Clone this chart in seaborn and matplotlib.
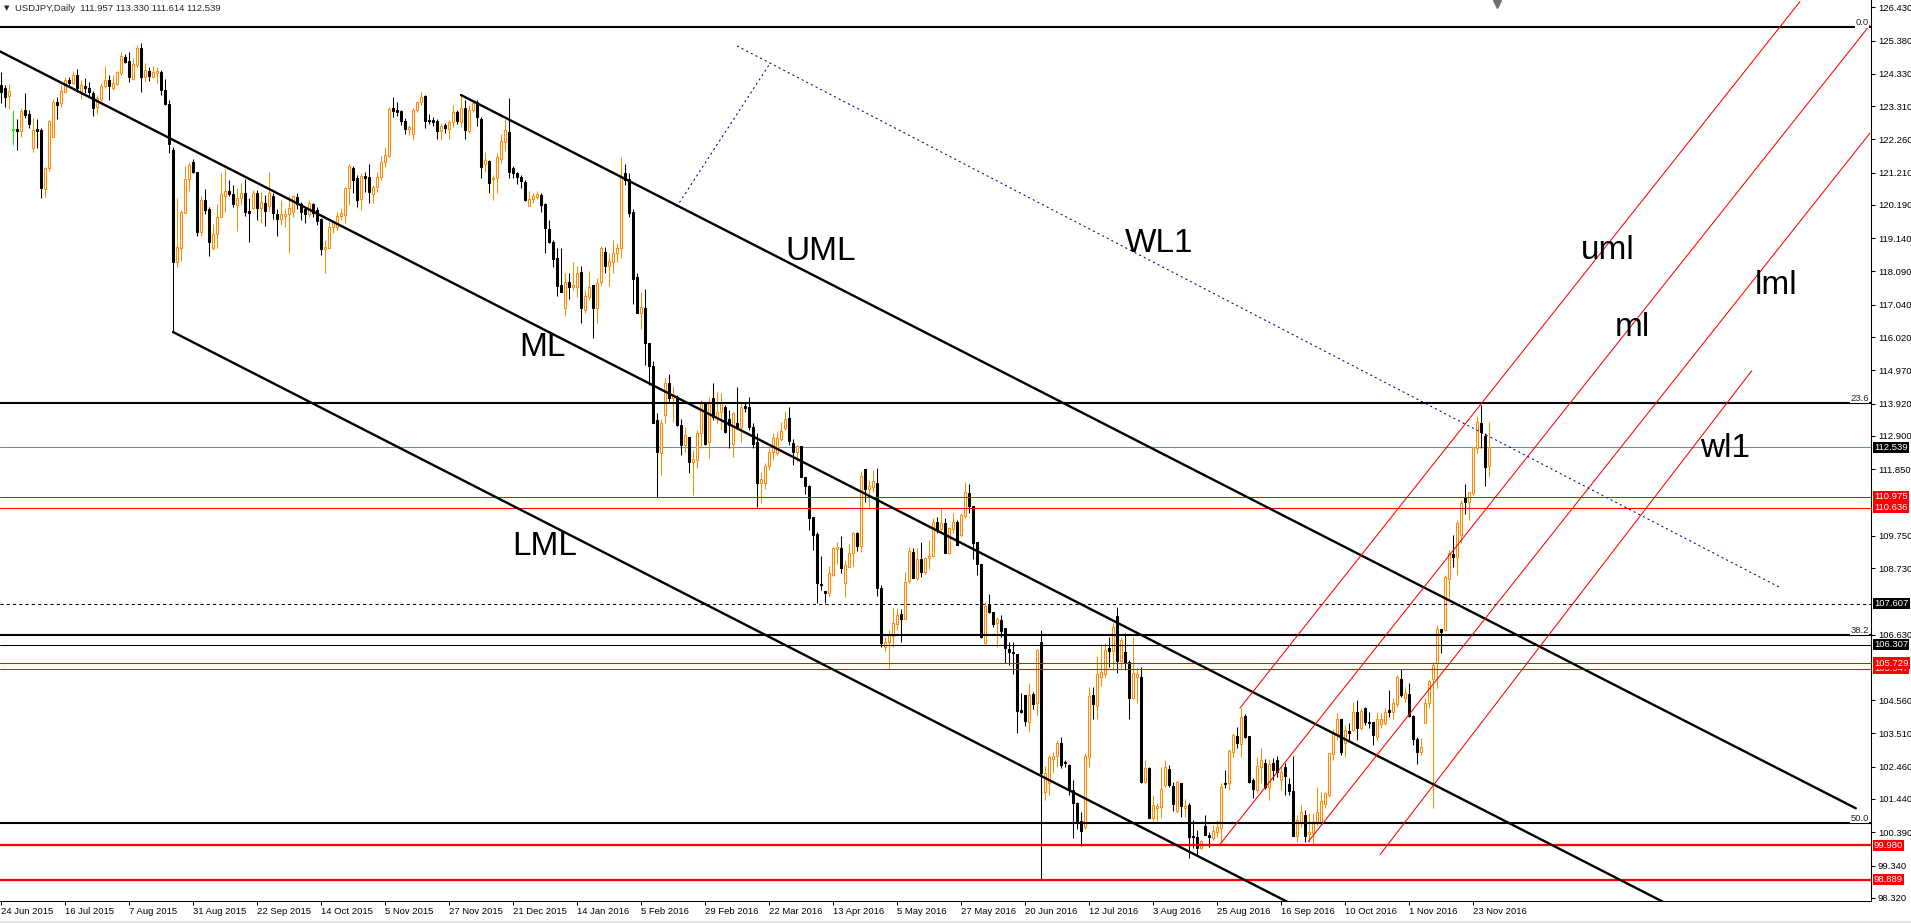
import numpy as np
import pandas as pd
import matplotlib
matplotlib.use("Agg")
import matplotlib.pyplot as plt
from matplotlib.patches import Rectangle
import seaborn as sns

# USDJPY daily candles, bar 0 = 24 Jun 2015 (weekdays, 25 Dec / 1 Jan missing)
opens = [
    123.98, 123.87, 123.64, 122.56, 122.58, 122.51, 123.19, 123.05, 121.98, 122.58,
    122.56, 120.68, 121.35, 122.33, 123.43, 123.40, 123.75, 124.14, 124.03, 124.29,
    123.79, 123.95, 123.87, 123.71, 123.27, 123.54, 123.93, 124.13, 123.87, 124.01,
    124.35, 124.87, 124.74, 124.16, 124.61, 125.14, 124.22, 124.42, 124.24, 124.37,
    124.38, 123.82, 123.37, 121.93, 118.40, 118.84, 119.93, 121.00, 121.56, 121.22,
    119.35, 120.35, 120.06, 118.84, 119.27, 119.82, 120.48, 120.63, 120.54, 120.19,
    120.42, 120.57, 120.00, 120.08, 120.56, 120.11, 120.26, 120.17, 120.47, 119.90,
    119.74, 119.85, 119.90, 119.98, 120.43, 120.22, 120.06, 119.89, 120.22, 120.03,
    119.75, 118.80, 118.84, 119.51, 119.51, 119.85, 119.87, 120.71, 121.37, 121.03,
    120.38, 121.11, 121.08, 120.53, 120.77, 121.08, 121.54, 121.75, 123.26, 123.19,
    123.16, 122.85, 122.59, 122.43, 123.19, 123.43, 123.63, 122.87, 122.87, 122.84,
    122.54, 122.71, 122.58, 122.80, 123.11, 122.82, 123.24, 122.52, 123.19, 123.43,
    122.90, 121.48, 121.59, 121.01, 121.03, 121.64, 122.19, 122.50, 121.35, 121.19,
    121.08, 120.93, 120.17, 120.37, 120.43, 120.51, 120.21, 119.43, 119.01, 118.51,
    117.66, 116.95, 117.77, 117.61, 117.61, 118.08, 116.87, 117.29, 117.66, 116.93,
    117.75, 118.72, 118.27, 118.40, 118.66, 118.82, 121.19, 121.00, 119.98, 117.93,
    116.77, 116.93, 115.82, 115.11, 113.40, 112.35, 113.56, 114.58, 114.09, 114.14,
    113.25, 112.61, 112.88, 112.09, 112.14, 112.98, 113.93, 112.72, 114.09, 113.45,
    113.67, 113.82, 113.42, 112.64, 113.32, 113.19, 113.85, 113.82, 113.19, 112.72,
    111.40, 111.40, 111.95, 112.40, 112.35, 112.80, 113.14, 113.45, 112.67, 112.40,
    112.58, 111.59, 111.32, 110.33, 109.80, 108.20, 108.02, 107.93, 108.51, 109.32,
    109.35, 108.27, 108.75, 109.19, 109.85, 109.44, 111.85, 111.21, 111.30, 111.40,
    108.09, 106.25, 106.38, 106.58, 106.96, 107.27, 107.11, 108.33, 109.23, 108.40,
    109.00, 108.61, 109.04, 109.12, 110.17, 109.95, 110.16, 109.21, 109.95, 110.19,
    109.77, 110.37, 111.11, 110.69, 109.54, 108.86, 106.35, 107.59, 107.35, 106.98,
    107.09, 106.83, 106.16, 106.08, 106.02, 104.25, 104.72, 103.88, 104.74, 104.48,
    106.41, 101.67, 101.95, 102.70, 102.80, 103.20, 102.60, 102.51, 101.72, 101.32,
    100.75, 100.54, 102.75, 104.72, 104.39, 105.30, 105.37, 106.20, 106.12, 107.20,
    105.78, 106.09, 105.77, 104.62, 105.30, 105.28, 101.99, 102.41, 100.85, 101.17,
    101.20, 101.88, 102.38, 101.85, 101.06, 101.95, 101.14, 101.25, 100.27, 100.23,
    99.88, 100.60, 100.30, 100.20, 100.41, 100.51, 101.95, 101.93, 102.93, 103.43,
    103.17, 104.07, 103.43, 102.04, 101.72, 102.46, 102.57, 101.83, 102.56, 102.67,
    102.04, 102.46, 101.90, 101.69, 100.28, 100.72, 100.93, 100.34, 100.36, 100.67,
    100.67, 101.28, 101.56, 102.86, 103.49, 103.96, 103.20, 103.57, 103.62, 104.17,
    103.67, 104.30, 103.88, 103.86, 103.41, 103.80, 103.83, 104.25, 104.20, 104.44,
    105.23, 104.62, 104.75, 104.07, 103.32, 102.93, 103.85, 104.48, 105.22, 105.72,
    106.80, 106.77, 108.37, 109.17, 109.09, 109.77, 110.96, 110.80, 111.09, 112.51,
    113.30, 112.90, 111.957,
]
highs = [
    124.40, 123.98, 124.01, 123.19, 122.90, 123.24, 123.71, 123.19, 122.93, 122.90,
    122.61, 121.40, 122.87, 123.53, 123.61, 123.98, 124.22, 124.24, 124.43, 124.47,
    124.14, 124.19, 124.08, 123.79, 123.66, 124.05, 124.58, 124.29, 124.29, 124.43,
    125.01, 124.96, 125.03, 124.82, 125.24, 125.29, 124.66, 124.56, 124.58, 124.56,
    124.45, 124.16, 123.50, 122.01, 120.40, 120.03, 121.42, 121.56, 121.63, 121.24,
    120.47, 120.68, 120.14, 119.59, 120.22, 121.19, 121.33, 120.98, 120.83, 120.72,
    120.87, 121.00, 120.40, 120.66, 120.66, 120.59, 120.50, 121.23, 120.56, 120.05,
    120.35, 120.05, 120.47, 120.50, 120.58, 120.29, 120.14, 120.35, 120.24, 120.14,
    119.77, 119.08, 119.66, 119.66, 119.98, 120.08, 120.77, 121.48, 121.42, 121.14,
    121.19, 121.24, 121.48, 120.82, 121.24, 121.74, 122.01, 123.29, 123.61, 123.45,
    123.19, 122.92, 122.71, 123.26, 123.48, 123.75, 123.66, 123.06, 122.98, 122.89,
    122.77, 122.77, 122.87, 123.35, 123.19, 123.66, 123.50, 123.33, 123.48, 123.50,
    122.98, 121.87, 121.61, 121.14, 121.82, 122.43, 122.87, 123.56, 121.42, 121.24,
    121.14, 120.98, 120.63, 120.56, 120.64, 120.58, 120.24, 119.72, 119.08, 118.82,
    118.82, 118.03, 118.05, 118.40, 118.26, 118.26, 117.51, 118.11, 117.66, 117.87,
    118.90, 118.87, 118.66, 119.08, 118.98, 121.69, 121.48, 121.21, 120.05, 118.05,
    117.45, 117.54, 115.84, 115.28, 113.61, 113.42, 114.72, 114.87, 114.48, 114.19,
    113.42, 113.19, 112.88, 112.45, 113.09, 114.03, 113.98, 114.14, 114.56, 114.30,
    114.24, 113.88, 113.72, 113.64, 114.45, 113.98, 113.98, 114.14, 113.30, 112.98,
    111.77, 112.03, 112.51, 112.98, 113.01, 113.35, 113.69, 113.82, 112.79, 112.61,
    112.58, 111.59, 111.35, 110.35, 109.88, 109.11, 108.02, 108.79, 109.40, 109.56,
    109.74, 108.98, 109.49, 109.88, 109.88, 111.80, 111.85, 111.51, 111.82, 111.88,
    108.19, 106.56, 106.77, 107.46, 107.48, 107.43, 108.62, 109.40, 109.35, 109.35,
    109.56, 109.09, 109.63, 110.30, 110.35, 110.58, 110.30, 110.04, 110.46, 110.25,
    110.46, 111.45, 111.38, 110.69, 109.56, 108.86, 107.67, 107.91, 107.35, 107.19,
    107.25, 106.83, 106.40, 106.38, 106.02, 104.78, 104.72, 105.09, 104.83, 106.16,
    106.77, 102.48, 102.83, 102.93, 103.30, 103.41, 102.67, 102.54, 102.04, 101.35,
    101.04, 102.90, 104.99, 104.96, 105.95, 106.33, 106.37, 106.54, 107.00, 107.51,
    106.56, 106.67, 105.83, 106.54, 105.56, 105.60, 102.67, 102.44, 101.57, 101.30,
    102.44, 102.67, 102.51, 101.99, 102.04, 101.95, 101.43, 101.30, 100.78, 100.46,
    100.15, 100.94, 100.41, 100.62, 100.78, 101.93, 102.35, 103.01, 103.53, 103.70,
    104.30, 104.12, 103.43, 102.09, 102.78, 103.04, 102.69, 102.67, 102.72, 102.80,
    102.46, 102.56, 102.09, 102.80, 100.93, 101.25, 101.09, 100.99, 100.99, 101.83,
    101.67, 101.67, 102.90, 103.64, 104.16, 103.96, 103.77, 103.83, 104.51, 104.56,
    104.30, 104.35, 104.20, 103.88, 104.20, 104.14, 104.30, 104.88, 104.62, 105.35,
    105.53, 104.99, 105.09, 104.09, 103.41, 103.35, 104.62, 105.21, 105.77, 106.93,
    106.80, 108.51, 109.30, 109.77, 110.25, 110.88, 111.38, 111.14, 112.56, 113.53,
    113.88, 112.98, 113.330,
]
lows = [
    123.40, 123.27, 123.21, 122.08, 121.93, 122.35, 122.93, 122.61, 121.85, 122.00,
    120.40, 120.45, 121.26, 122.33, 122.90, 123.27, 123.71, 123.93, 124.01, 123.75,
    123.54, 123.74, 123.61, 123.01, 123.07, 123.46, 123.87, 123.50, 123.82, 123.98,
    124.29, 124.66, 124.06, 124.14, 124.56, 123.77, 124.06, 124.11, 124.22, 124.03,
    123.66, 123.33, 121.82, 116.18, 118.24, 118.42, 119.93, 120.64, 121.19, 119.21,
    119.21, 119.91, 118.59, 118.77, 118.82, 119.80, 119.98, 120.47, 120.14, 119.38,
    120.19, 119.84, 119.03, 120.05, 119.70, 119.61, 119.53, 120.01, 119.74, 119.22,
    119.56, 119.51, 118.66, 119.82, 120.05, 119.72, 119.61, 119.82, 119.82, 119.56,
    118.61, 118.05, 118.82, 119.29, 119.40, 119.72, 119.61, 120.19, 120.56, 120.14,
    120.03, 120.61, 120.26, 120.24, 120.61, 120.98, 121.38, 121.72, 122.98, 123.00,
    122.71, 122.43, 122.40, 122.24, 123.13, 123.35, 122.61, 122.75, 122.67, 122.27,
    122.24, 122.47, 122.27, 122.66, 122.74, 122.66, 122.26, 122.45, 123.13, 122.69,
    121.05, 121.24, 120.56, 120.35, 120.58, 121.53, 121.90, 121.03, 121.03, 120.85,
    120.71, 120.33, 120.17, 120.24, 120.37, 119.98, 118.68, 118.98, 118.24, 117.33,
    117.45, 116.67, 117.21, 117.51, 117.29, 116.48, 116.77, 117.19, 115.98, 116.45,
    117.66, 118.03, 117.64, 118.03, 118.40, 118.51, 120.82, 119.82, 117.06, 116.77,
    116.26, 115.14, 114.51, 113.30, 110.98, 111.67, 113.30, 113.93, 113.35, 113.21,
    112.30, 112.40, 111.74, 111.03, 111.88, 112.51, 112.61, 112.19, 113.40, 113.30,
    113.09, 112.98, 112.51, 112.22, 113.14, 112.72, 113.67, 113.09, 112.51, 110.67,
    110.79, 111.21, 111.83, 112.14, 112.30, 112.75, 113.09, 112.61, 111.98, 112.09,
    111.59, 111.07, 109.93, 109.30, 107.62, 108.04, 107.62, 107.85, 108.48, 108.86,
    108.56, 107.83, 108.75, 108.75, 109.28, 109.25, 110.82, 110.65, 111.14, 107.85,
    106.25, 106.12, 105.53, 106.23, 106.77, 106.40, 107.11, 108.27, 108.42, 108.35,
    108.46, 108.54, 108.69, 109.09, 109.85, 109.91, 109.19, 109.17, 109.85, 109.46,
    109.72, 110.30, 110.46, 109.00, 108.51, 106.52, 106.32, 107.30, 106.88, 106.25,
    106.56, 105.72, 105.67, 105.38, 103.53, 104.14, 103.74, 103.56, 104.28, 104.09,
    98.90, 101.41, 101.57, 102.25, 102.46, 102.41, 102.44, 101.57, 100.20, 100.48,
    99.97, 100.48, 102.44, 103.95, 103.95, 105.01, 105.30, 105.62, 105.51, 105.41,
    105.57, 105.51, 103.97, 104.59, 104.46, 101.95, 101.93, 100.83, 100.73, 100.73,
    100.85, 101.83, 101.83, 101.07, 100.99, 100.88, 100.86, 99.57, 99.88, 99.64,
    99.85, 100.30, 99.91, 100.15, 100.25, 100.04, 101.80, 101.72, 102.78, 103.04,
    102.78, 103.35, 101.93, 101.46, 101.62, 101.95, 101.75, 101.41, 102.04, 102.14,
    101.72, 101.56, 101.56, 100.28, 100.09, 100.56, 100.09, 100.09, 100.04, 100.62,
    100.62, 101.14, 101.51, 102.67, 103.30, 102.83, 102.78, 103.30, 103.57, 103.30,
    103.62, 103.77, 103.67, 103.14, 103.30, 103.67, 103.77, 104.04, 103.98, 104.35,
    104.67, 104.51, 104.04, 103.14, 102.54, 102.83, 103.83, 104.30, 101.17, 104.93,
    106.04, 106.75, 107.77, 108.77, 108.51, 109.51, 110.43, 110.25, 111.03, 112.35,
    112.51, 111.32, 111.614,
]
closes = [
    123.77, 123.61, 123.79, 122.56, 122.51, 123.16, 123.03, 122.74, 122.56, 122.54,
    120.72, 121.35, 122.84, 123.43, 123.35, 123.79, 124.14, 124.05, 124.29, 123.87,
    123.98, 123.87, 123.75, 123.24, 123.56, 123.95, 124.13, 123.93, 124.03, 124.38,
    124.89, 124.71, 124.22, 124.63, 125.14, 124.22, 124.45, 124.27, 124.38, 124.42,
    123.82, 123.38, 122.10, 118.40, 118.87, 119.96, 121.00, 121.45, 121.22, 119.35,
    120.35, 120.03, 119.03, 119.27, 119.80, 120.54, 120.63, 120.54, 120.21, 120.42,
    120.57, 119.98, 119.95, 120.56, 120.11, 120.27, 120.01, 120.57, 119.93, 119.74,
    119.89, 119.90, 120.11, 120.47, 120.22, 119.98, 119.90, 120.24, 119.95, 119.69,
    118.80, 118.87, 119.51, 119.64, 119.84, 119.95, 120.71, 121.42, 120.98, 120.35,
    121.11, 121.05, 120.59, 120.77, 121.08, 121.56, 121.77, 123.22, 123.17, 123.13,
    122.85, 122.59, 122.64, 123.19, 123.43, 123.59, 122.85, 122.83, 122.80, 122.54,
    122.68, 122.61, 122.82, 123.11, 122.84, 123.24, 122.56, 123.19, 123.40, 122.96,
    121.40, 121.61, 120.87, 121.02, 121.69, 122.22, 122.56, 121.24, 121.21, 121.06,
    120.96, 120.35, 120.37, 120.47, 120.54, 120.19, 119.45, 119.03, 118.47, 117.64,
    117.45, 117.75, 117.61, 117.66, 118.05, 116.95, 117.32, 117.61, 116.93, 117.72,
    118.82, 118.26, 118.42, 118.68, 118.82, 121.08, 120.98, 119.93, 117.84, 116.77,
    116.96, 115.82, 115.11, 113.32, 112.40, 113.30, 114.58, 114.09, 114.16, 113.25,
    112.61, 112.93, 112.09, 112.16, 113.00, 113.95, 112.64, 113.98, 113.49, 113.67,
    113.93, 113.03, 113.25, 113.61, 113.19, 113.82, 113.77, 113.17, 112.66, 111.40,
    111.53, 111.95, 112.40, 112.82, 112.82, 113.06, 113.43, 112.75, 112.40, 112.58,
    111.61, 111.32, 110.30, 109.77, 108.25, 108.19, 107.93, 108.56, 109.35, 109.40,
    108.72, 108.83, 109.21, 109.85, 109.44, 111.63, 111.22, 111.32, 111.48, 108.11,
    106.37, 106.38, 106.64, 106.98, 107.25, 107.12, 108.30, 109.27, 108.43, 109.00,
    108.61, 109.04, 109.12, 110.19, 109.93, 110.14, 109.21, 109.98, 110.19, 109.46,
    110.40, 111.12, 110.69, 109.53, 108.86, 106.54, 107.54, 107.34, 106.96, 107.12,
    106.75, 106.19, 106.08, 106.04, 104.23, 104.20, 103.91, 104.72, 104.44, 106.14,
    102.25, 102.25, 102.76, 102.80, 103.22, 102.51, 102.56, 101.72, 101.30, 100.75,
    100.44, 102.80, 104.70, 104.44, 105.37, 105.44, 106.14, 106.12, 106.86, 105.78,
    106.46, 105.74, 104.62, 105.41, 105.39, 101.99, 102.41, 100.85, 101.25, 101.23,
    101.74, 102.44, 101.88, 101.27, 101.99, 101.22, 101.23, 100.25, 100.23, 99.88,
    100.11, 100.30, 100.23, 100.43, 100.54, 101.83, 101.91, 102.95, 103.46, 103.22,
    104.04, 103.41, 101.99, 101.75, 102.48, 102.67, 101.83, 102.54, 102.36, 102.30,
    102.30, 102.17, 101.70, 100.28, 100.78, 101.04, 100.28, 100.41, 100.69, 101.02,
    101.39, 101.62, 102.88, 103.51, 103.96, 102.93, 103.62, 103.51, 104.17, 103.67,
    104.23, 103.88, 103.85, 103.46, 103.96, 103.98, 104.20, 104.20, 104.46, 105.30,
    104.72, 104.77, 104.07, 103.32, 102.93, 103.09, 104.48, 105.17, 105.67, 106.80,
    106.72, 108.44, 109.22, 109.09, 110.16, 110.79, 110.80, 111.14, 112.54, 113.33,
    113.03, 111.91, 112.539,
]

# one date label every 16 bars
date_labels = [
    "24 Jun 2015", "16 Jul 2015", "7 Aug 2015", "31 Aug 2015", "22 Sep 2015",
    "14 Oct 2015", "5 Nov 2015", "27 Nov 2015", "21 Dec 2015", "14 Jan 2016",
    "5 Feb 2016", "29 Feb 2016", "22 Mar 2016", "13 Apr 2016", "5 May 2016",
    "27 May 2016", "20 Jun 2016", "12 Jul 2016", "3 Aug 2016", "25 Aug 2016",
    "16 Sep 2016", "10 Oct 2016", "1 Nov 2016", "23 Nov 2016",
]
# visible price scale values (the ones under the coloured tags are left out)
price_ticks = [
    126.430, 125.380, 124.330, 123.310, 122.260, 121.210, 120.190, 119.140,
    118.090, 117.040, 116.020, 114.970, 113.920, 112.900, 111.850,
    109.750, 108.730, 106.630, 104.560, 103.510, 102.460,
    101.440, 100.390, 99.340, 98.320,
]

# fibonacci retracement drawn from 75.58 up to 125.80
fib_high = 125.80
fib_low = 75.58
fib_levels = [0.0, 23.6, 38.2, 50.0]

# horizontal levels
thin_red_levels = [110.975, 110.636, 105.547, 105.729]
thick_red_levels = [99.980, 98.889]
dashed_level = 107.607
thin_black_level = 106.307
bid_price = 112.539

# black pitchfork anchors (bar, price): handle, upper, lower
fork_handle = (-13, 125.86)
fork_upper = (115, 123.66)
fork_lower = (43, 116.18)

# red pitchfork lines (start, end) as (bar, price)
red_uml = [(309.75, 104.31), (449.75, 126.61)]
red_ml = [(304.75, 100.01), (467.25, 125.87)]
red_lml = [(326.8, 100.09), (467.25, 122.46)]
red_wl1 = [(344.75, 99.68), (437.7, 114.96)]

# dotted warning line and its link to the upper line
blue_wl1 = [(184.0, 125.21), (444.5, 108.13)]
blue_link = [(168.9, 120.13), (192.0, 124.61)]

ORANGE = "#ff8c00"
NAVY = "#000080"
X_MIN, X_MAX = -0.25, 467.5
X_RAY_END = 463.7
Y_MIN, Y_MAX = 98.229, 126.66

sns.set_theme(style="white")
plt.rcParams["font.family"] = ["Liberation Sans", "DejaVu Sans"]

fig = plt.figure(figsize=(19.11, 9.23), dpi=100)
ax = fig.add_axes([0, 22.3 / 923, 1871 / 1911, 900.7 / 923])
ax.set_facecolor("white")

df = pd.DataFrame({"open": opens, "high": highs, "low": lows, "close": closes})
df["bar"] = np.arange(len(df))
df["kind"] = np.where(df["close"] > df["open"], "up",
                      np.where(df["close"] < df["open"], "down", "flat"))
edge_map = {"up": ORANGE, "down": "black", "flat": "#00ff00"}
face_map = {"up": "white", "down": "black", "flat": "#00ff00"}

# wicks then bodies
ax.vlines(df["bar"], df["low"], df["high"], colors=df["kind"].map(edge_map),
          linewidth=0.75, zorder=2)
body_low = np.minimum(df["open"], df["close"])
body_h = np.maximum((df["close"] - df["open"]).abs(), 0.03)
ax.bar(df["bar"], body_h, bottom=body_low, width=0.5,
       color=df["kind"].map(face_map), edgecolor=df["kind"].map(edge_map),
       linewidth=0.75, zorder=2.5)

# horizontal lines
ax.axhline(bid_price, color="#778899", linewidth=0.75, zorder=1.5)
for lvl in fib_levels:
    price = fib_high - (fib_high - fib_low) * lvl / 100.0
    ax.axhline(price, color="black", linewidth=1.5, zorder=3)
    ax.text(0.9989, price, f"{lvl:.1f}", transform=ax.get_yaxis_transform(),
            ha="right", va="bottom", fontsize=6.8, zorder=6,
            bbox=dict(boxstyle="square,pad=0.05", fc="white", ec="none"))
for lvl in thin_red_levels:
    ax.axhline(lvl, color="red", linewidth=0.75, zorder=3)
for lvl in thick_red_levels:
    ax.axhline(lvl, color="red", linewidth=1.6, zorder=3)
ax.axhline(dashed_level, color="black", linewidth=0.75, linestyle=(0, (3, 3)), zorder=3)
ax.axhline(thin_black_level, color="black", linewidth=0.75, zorder=3)


def ray(x0, y0, slope, color, lw):
    xs = np.array([x0, X_RAY_END])
    ys = y0 + slope * (xs - x0)
    sns.lineplot(x=xs, y=ys, ax=ax, color=color, linewidth=lw, zorder=3)


# black pitchfork
mid_bar = (fork_upper[0] + fork_lower[0]) / 2
mid_price = (fork_upper[1] + fork_lower[1]) / 2
fork_slope = (mid_price - fork_handle[1]) / (mid_bar - fork_handle[0])
ray(fork_handle[0], fork_handle[1], fork_slope, "black", 1.7)
ray(fork_upper[0], fork_upper[1], fork_slope, "black", 1.7)
ray(fork_lower[0], fork_lower[1], fork_slope, "black", 1.7)

# red pitchfork
for seg in [red_uml, red_ml, red_lml, red_wl1]:
    sns.lineplot(x=[seg[0][0], seg[1][0]], y=[seg[0][1], seg[1][1]], ax=ax,
                 color="red", linewidth=0.75, zorder=3)

# dotted blue lines
for seg in [blue_wl1, blue_link]:
    ax.plot([seg[0][0], seg[1][0]], [seg[0][1], seg[1][1]], color=NAVY,
            linewidth=0.75, linestyle=(0, (2, 3)), zorder=3)

# big labels (left edge, baseline)
big = dict(fontsize=24, color="black", va="baseline", zorder=7)
ax.text(196.0, 118.45, "UML", ha="left", **big)
ax.text(281.0, 118.71, "WL1", ha="left", **big)
ax.text(135.3, 115.42, "ML", ha="center", **big)
ax.text(136.0, 109.14, "LML", ha="center", **big)
ax.text(394.9, 118.49, "uml", ha="left", **big)
ax.text(403.5, 116.06, "ml", ha="left", **big)
ax.text(438.5, 117.38, "lml", ha="left", **big)
ax.text(424.75, 112.24, "wl1", ha="left", **big)

# axes styling
ax.set_xlim(X_MIN, X_MAX)
ax.set_ylim(Y_MIN, Y_MAX)
ax.grid(False)
for side in ["left", "top"]:
    ax.spines[side].set_visible(False)
for side in ["right", "bottom"]:
    ax.spines[side].set_color("black")
    ax.spines[side].set_linewidth(0.75)

ax.yaxis.tick_right()
ax.set_yticks(price_ticks)
ax.set_yticklabels([f"{p:.3f}" for p in price_ticks])
ax.set_xticks(np.arange(len(date_labels)) * 16)
ax.set_xticklabels(date_labels, ha="left")
ax.tick_params(axis="y", right=True, left=False, direction="out", length=3,
               width=0.75, pad=2, labelsize=6.8, colors="black")
ax.tick_params(axis="x", bottom=True, direction="out", length=3, width=0.75,
               pad=1.5, labelsize=6.8, colors="black")

# price tags on the axis
tags = [(thin_red_levels[2], "red"), (thin_red_levels[3], "red"),
        (thin_red_levels[0], "red"), (thin_red_levels[1], "red"),
        (dashed_level, "black"), (thin_black_level, "black"),
        (thick_red_levels[0], "red"), (thick_red_levels[1], "red"),
        (bid_price, "black")]
for value, bg in tags:
    ax.text(1.0016, value, f"{value:.3f}", transform=ax.get_yaxis_transform(),
            ha="left", va="center", color="white", fontsize=6.8, zorder=10,
            clip_on=False,
            bbox=dict(boxstyle="square,pad=0.12", fc=bg, ec="none"))

# header and chart shift marker
fig.text(4 / 1911, 1 - 8.3 / 923, "\u25bc", fontsize=5, va="center", ha="left",
         family="DejaVu Sans")
fig.text(15 / 1911, 1 - 8.3 / 923, "USDJPY,Daily  111.957 113.330 111.614 112.539",
         fontsize=6.8, va="center", ha="left")
ax.plot([1497 / 1871], [1 - 4 / 900.7], marker="v", color="#707070",
        markersize=6, transform=ax.transAxes, clip_on=False, zorder=8)
fig.patches.append(Rectangle((0, 0), 1, 2.5 / 923, transform=fig.transFigure,
                             color="#e3e3e3", zorder=0))

fig.savefig("out.png", dpi=100)
